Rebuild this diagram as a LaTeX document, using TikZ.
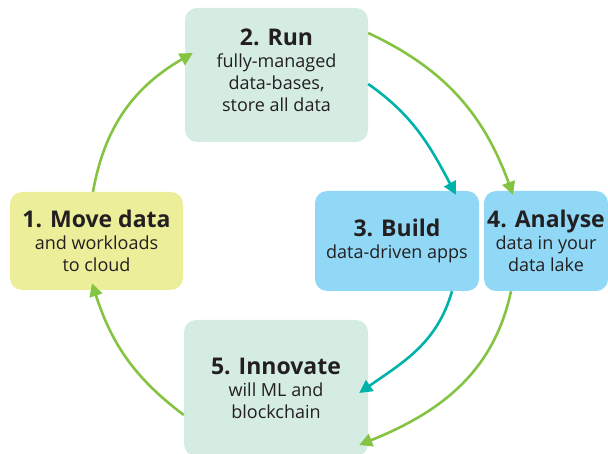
\documentclass[tikz,border=0pt]{standalone}
\usepackage{fontspec}
\setmainfont{Open Sans}
\usetikzlibrary{arrows.meta}
\definecolor{lemon}{HTML}{ECEE9A}
\definecolor{mint}{HTML}{D4ECE2}
\definecolor{sky}{HTML}{91D8F6}
\definecolor{leaf}{HTML}{85C342}
\definecolor{sea}{HTML}{00B3AA}
\definecolor{ink}{HTML}{231F20}
\newcommand\boxhead[1]{{\fontsize{23}{22}\selectfont\bfseries #1}}
\begin{document}
\begin{tikzpicture}[x=1pt,y=1pt,
  stage/.style={rounded corners=12pt, inner sep=0pt, align=center, text=ink,
    font=\fontsize{18}{22}\selectfont},
  caption/.style={inner sep=0pt, align=center, text=ink,
    font=\fontsize{18}{22}\selectfont},
  flow/.style={line width=2.6pt, -{Triangle[length=13pt,width=13pt]}},
  greenflow/.style={flow, draw=leaf},
  tealflow/.style={flow, draw=sea}]
\useasboundingbox (0,0) rectangle (608,453);
\clip (0,0) rectangle (608,453);

% stage boxes
\node[stage, fill=lemon, minimum width=173pt, minimum height=98pt] (n1) at (96.5,212)
  {\boxhead{1. Move data}\\and workloads\\to cloud};
\node[stage, fill=mint, minimum width=183pt, minimum height=134pt] (n2) at (276.5,378) {};
\node[caption] (t2) at (276.5,382.5)
  {\boxhead{2. Run}\\fully-managed\\data-bases,\\store all data};
\node[stage, fill=sky, minimum width=164pt, minimum height=100pt] (n3) at (397,212)
  {\boxhead{3. Build}\\data-driven apps};
\node[stage, fill=sky, minimum width=124pt, minimum height=100pt] (n4) at (546,212)
  {\boxhead{4. Analyse}\\data in your\\data lake};
\node[stage, fill=mint, minimum width=184pt, minimum height=136pt] (n5) at (276,65)
  {\boxhead{5. Innovate}\\will ML and\\blockchain};

% cycle connectors
\draw[greenflow] ([xshift=-3.5pt]n1.north) to[out=80,in=210]
  ([xshift=8pt,yshift=22pt]n2.west);
\draw[greenflow] ([yshift=42pt]n2.east) to[out=-25,in=110]
  ([xshift=-33pt,yshift=-4pt]n4.north);
\draw[tealflow] ([yshift=-9pt]n2.east) to[out=-35,in=118]
  ([xshift=59pt,yshift=-4pt]n3.north);
\draw[tealflow] ([xshift=55pt]n3.south) to[out=-106,in=35]
  ([xshift=-9pt,yshift=-5pt]n5.east);
\draw[greenflow] ([xshift=-35pt]n4.south) to[out=-102,in=22]
  ([xshift=-9pt,yshift=-57pt]n5.east);
\draw[greenflow] ([yshift=-27pt]n5.west) to[out=143,in=-72]
  ([xshift=-4.5pt,yshift=7pt]n1.south);
\end{tikzpicture}
\end{document}
